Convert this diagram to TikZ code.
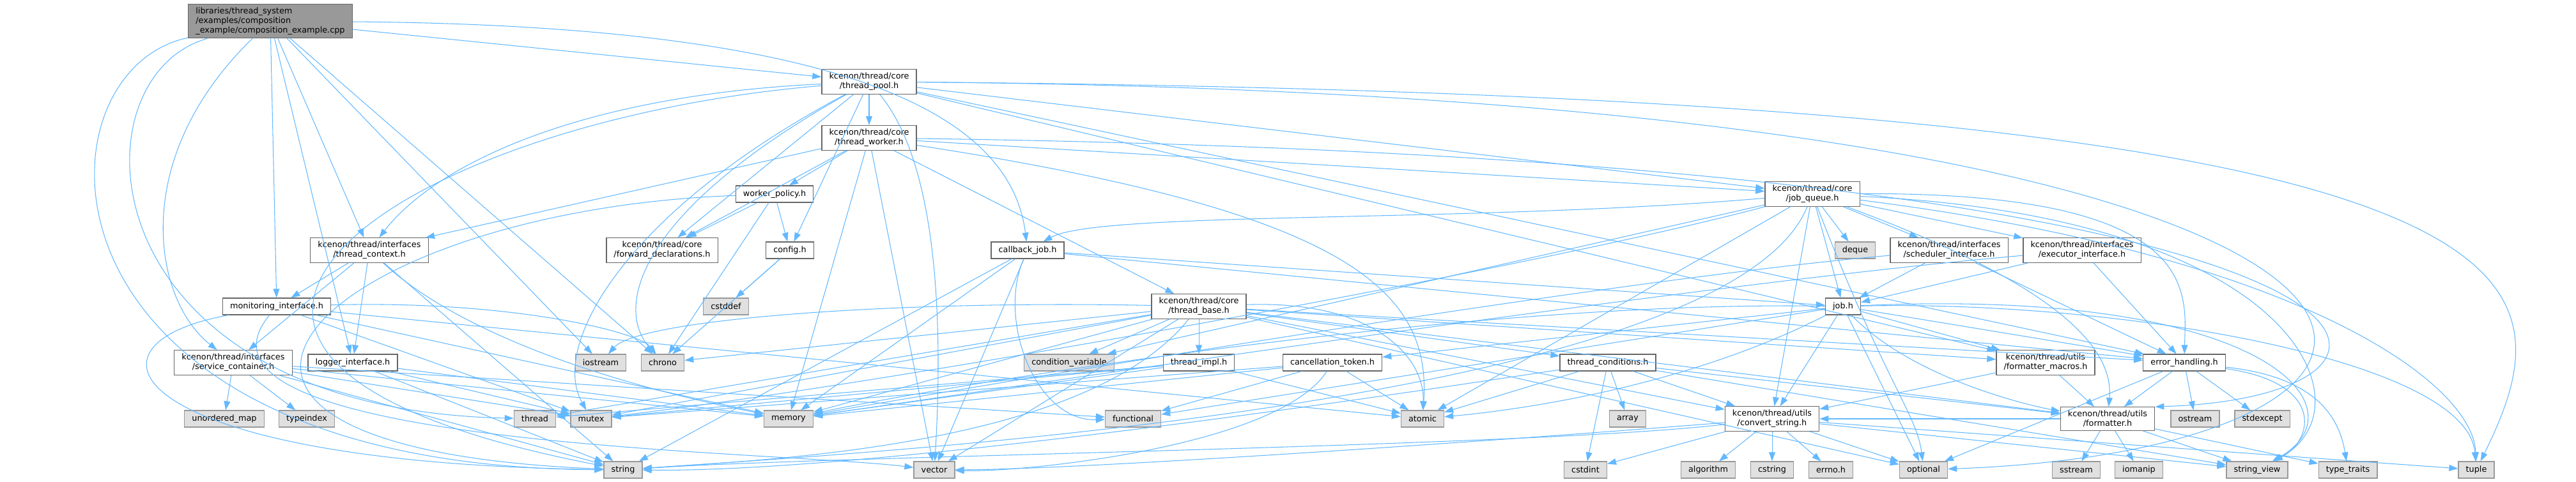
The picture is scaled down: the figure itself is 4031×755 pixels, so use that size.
\documentclass[tikz,border=0pt]{standalone}
\usepackage{fontspec}
\setmainfont{DejaVu Sans}
\usetikzlibrary{arrows.meta}
\definecolor{dgedge}{RGB}{99,184,255}
\definecolor{dgsys}{RGB}{224,224,224}
\definecolor{dgsysline}{RGB}{153,153,153}
\definecolor{dgline}{RGB}{102,102,102}
\definecolor{dgroot}{RGB}{153,153,153}

\begin{document}
\begin{tikzpicture}[x=0.2mm, y=0.2mm,
    hdr/.style={rectangle, draw=dgline, fill=white, line width=0.7pt,
                minimum height=14.7pt, inner xsep=6.6pt, inner ysep=3pt, align=center,
                font=\fontsize{7.3}{8.6}\selectfont},
    sys/.style={hdr, fill=dgsys, draw=dgsysline},
    src/.style={hdr, fill=dgroot, draw=dgline, align=left},
    dep/.style={dgedge, line width=0.6pt, -{Triangle[length=8pt,width=5.6pt]}}
  ]
    \useasboundingbox (0,0) rectangle (4031,-755);

    % Source file
    \node[src] (root)    at (423,-33)   {libraries/thread\_system\\/examples/composition\\\_example/composition\_example.cpp};

    % Core headers
    \node[hdr] (pool)    at (1360,-128) {kcenon/thread/core\\/thread\_pool.h};
    \node[hdr] (worker)  at (1360,-216) {kcenon/thread/core\\/thread\_worker.h};
    \node[hdr] (wpolicy) at (1212,-304) {worker\_policy.h};
    \node[hdr] (jobq)    at (2836,-304) {kcenon/thread/core\\/job\_queue.h};
    \node[hdr] (fwd)     at (1036,-392) {kcenon/thread/core\\/forward\_declarations.h};
    \node[hdr] (config)  at (1236,-392) {config.h};
    \node[hdr] (cbjob)   at (1608,-392) {callback\_job.h};
    \node[hdr] (tbase)   at (1876,-480) {kcenon/thread/core\\/thread\_base.h};
    \node[hdr] (job)     at (2884,-480) {job.h};
    \node[hdr] (timpl)   at (1876,-568) {thread\_impl.h};
    \node[hdr] (cancel)  at (2085,-568) {cancellation\_token.h};
    \node[hdr] (tcond)   at (2516,-568) {thread\_conditions.h};

    % Interfaces
    \node[hdr] (tctx)    at (578,-392)  {kcenon/thread/interfaces\\/thread\_context.h};
    \node[hdr] (sched)   at (3050,-392) {kcenon/thread/interfaces\\/scheduler\_interface.h};
    \node[hdr] (exec)    at (3258,-392) {kcenon/thread/interfaces\\/executor\_interface.h};
    \node[hdr] (monitor) at (433,-480)  {monitoring\_interface.h};
    \node[hdr] (svc)     at (365,-568)  {kcenon/thread/interfaces\\/service\_container.h};
    \node[hdr] (logger)  at (552,-568)  {logger\_interface.h};

    % Utils
    \node[hdr] (fmtmac)  at (3201,-568) {kcenon/thread/utils\\/formatter\_macros.h};
    \node[hdr] (errh)    at (3418,-568) {error\_handling.h};
    \node[hdr] (convstr) at (2773,-656) {kcenon/thread/utils\\/convert\_string.h};
    \node[hdr] (fmt)     at (3298,-656) {kcenon/thread/utils\\/formatter.h};

    % Standard headers
    \node[sys] (deque)     at (2903,-392) {deque};
    \node[sys] (cstddef)   at (1136,-480) {cstddef};
    \node[sys] (iostream)  at (940,-568)  {iostream};
    \node[sys] (chrono)    at (1037,-568) {chrono};
    \node[sys] (condvar)   at (1673,-568) {condition\_variable};
    \node[sys] (umap)      at (351,-656)  {unordered\_map};
    \node[sys] (typeindex) at (480,-656)  {typeindex};
    \node[sys] (thread)    at (837,-656)  {thread};
    \node[sys] (mutex)     at (925,-656)  {mutex};
    \node[sys] (memory)    at (1234,-656) {memory};
    \node[sys] (functional) at (1773,-656) {functional};
    \node[sys] (atomic)    at (2226,-656) {atomic};
    \node[sys] (array)     at (2547,-656) {array};
    \node[sys] (ostream)   at (3435,-656) {ostream};
    \node[sys] (stdexcept) at (3540,-656) {stdexcept};
    \node[sys] (string)    at (975,-736)  {string};
    \node[sys] (vector)    at (1462,-736) {vector};
    \node[sys] (cstdint)   at (2481,-736) {cstdint};
    \node[sys] (algorithm) at (2673,-736) {algorithm};
    \node[sys] (cstring)   at (2773,-736) {cstring};
    \node[sys] (errno)     at (2865,-736) {errno.h};
    \node[sys] (optional)  at (3010,-736) {optional};
    \node[sys] (sstream)   at (3249,-736) {sstream};
    \node[sys] (iomanip)   at (3347,-736) {iomanip};
    \node[sys] (strview)   at (3532,-736) {string\_view};
    \node[sys] (traits)    at (3674,-736) {type\_traits};
    \node[sys] (tuple)     at (3875,-736) {tuple};

    % composition_example.cpp
    \foreach \t in {pool,tctx,monitor,logger,iostream,chrono} \draw[dep] (root) -- (\t);
    \draw[dep] (root) .. controls (1300,-40) and (1580,-170) .. (cbjob);
    \draw[dep] (root) .. controls (45,-110) and (30,-730) .. (string);
    \draw[dep] (root) .. controls (110,-120) and (130,-640) .. (thread);
    \draw[dep] (root) .. controls (200,-250) and (240,-470) .. (svc);

    % thread_pool.h
    \foreach \t in {worker,jobq,fwd,config,errh,fmtmac} \draw[dep] (pool) -- (\t);
    \draw[dep] (pool) .. controls (900,-150) and (680,-260) .. (tctx);
    \draw[dep] (pool) .. controls (620,-190) and (70,-560) .. (string);
    \draw[dep] (pool) .. controls (1000,-330) and (960,-480) .. (chrono);
    \draw[dep] (pool) .. controls (980,-330) and (860,-540) .. (mutex);
    \draw[dep] (pool) .. controls (1470,-260) and (1475,-520) .. (vector);
    \draw[dep] (pool) .. controls (4030,-150) and (4030,-420) .. (tuple);
    \draw[dep] (pool) .. controls (3980,-150) and (3980,-700) .. (optional);

    % thread_worker.h
    \foreach \t in {wpolicy,tbase,jobq,fwd,tctx,memory,vector} \draw[dep] (worker) -- (\t);
    \draw[dep] (worker) .. controls (2100,-330) and (2240,-450) .. (atomic);
    \draw[dep] (worker) .. controls (3880,-250) and (3880,-622) .. (fmt.north east);

    % worker_policy.h, config.h
    \foreach \t in {fwd,config,chrono} \draw[dep] (wpolicy) -- (\t);
    \draw[dep] (wpolicy) .. controls (500,-330) and (120,-700) .. (string);
    \foreach \t in {cstddef,chrono} \draw[dep] (config) -- (\t);

    % interfaces
    \foreach \t in {monitor,svc,logger,string} \draw[dep] (tctx) -- (\t);
    \draw[dep] (tctx) .. controls (760,-560) and (1100,-630) .. (memory);
    \foreach \t in {memory,mutex,atomic} \draw[dep] (monitor) -- (\t);
    \draw[dep] (monitor) .. controls (800,-470) and (1000,-520) .. (chrono);
    \draw[dep] (monitor) .. controls (100,-540) and (200,-725) .. (string);
    \draw[dep] (monitor) .. controls (250,-700) and (1200,-705) .. (vector);
    \foreach \t in {umap,typeindex,memory,mutex,functional,string} \draw[dep] (svc) -- (\t);
    \foreach \t in {string,memory,mutex} \draw[dep] (logger) -- (\t);
    \foreach \t in {job,errh} \draw[dep] (sched) -- (\t);
    \draw[dep] (sched) .. controls (2500,-440) and (1500,-610) .. (memory);
    \foreach \t in {job,errh} \draw[dep] (exec) -- (\t);
    \draw[dep] (exec) .. controls (2600,-450) and (1500,-620) .. (memory);

    % callback_job.h
    \foreach \t in {job,vector,memory,string,errh} \draw[dep] (cbjob) -- (\t);
    \draw[dep] (cbjob) .. controls (1560,-500) and (1620,-660) .. (functional);

    % thread_base.h
    \foreach \t in {timpl,condvar,tcond,thread,mutex,memory,chrono,fmtmac,errh,fmt,convstr,optional,vector}
      \draw[dep] (tbase) -- (\t);
    \draw[dep] (tbase) .. controls (1400,-470) and (1000,-500) .. (iostream);
    \draw[dep] (tbase) .. controls (2150,-470) and (2230,-560) .. (atomic);
    \draw[dep] (tbase) .. controls (1700,-700) and (1200,-720) .. (string);
    \foreach \t in {thread,mutex,memory,atomic} \draw[dep] (timpl) -- (\t);
    \foreach \t in {atomic,functional,memory,mutex} \draw[dep] (cancel) -- (\t);
    \draw[dep] (cancel) .. controls (2000,-700) and (1600,-740) .. (vector);
    \foreach \t in {array,cstdint,atomic,convstr,fmt,strview} \draw[dep] (tcond) -- (\t);
    \draw[dep] (tcond) .. controls (2300,-600) and (1400,-740) .. (string);

    % job_queue.h
    \foreach \t in {job,deque,sched,exec,condvar,atomic,convstr} \draw[dep] (jobq) -- (\t);
    \draw[dep] (jobq) .. controls (2300,-350) and (1720,-330) .. (cbjob);
    \draw[dep] (jobq) .. controls (3450,-300) and (3420,-460) .. (errh);
    \draw[dep] (jobq) .. controls (3150,-420) and (3310,-520) .. (fmt);
    \draw[dep] (jobq) .. controls (3600,-340) and (3710,-640) .. (strview);
    \draw[dep] (jobq) .. controls (3600,-400) and (3870,-600) .. (tuple);
    \draw[dep] (jobq) .. controls (2950,-600) and (3000,-650) .. (optional);
    \draw[dep] (jobq) .. controls (2400,-420) and (1400,-600) .. (mutex);
    \draw[dep] (jobq) .. controls (2700,-640) and (1300,-712) .. (string);

    % job.h
    \foreach \t in {cancel,errh,fmtmac,convstr,optional,functional} \draw[dep] (job) -- (\t);
    \draw[dep] (job) .. controls (3000,-600) and (3200,-640) .. (fmt);
    \draw[dep] (job) .. controls (2650,-600) and (2400,-640) .. (atomic);
    \draw[dep] (job) .. controls (3300,-470) and (3860,-560) .. (tuple);
    \draw[dep] (job) .. controls (3550,-450) and (3700,-640) .. (strview);
    \draw[dep] (job) .. controls (2300,-470) and (1500,-600) .. (memory);

    % utils
    \foreach \t in {ostream,stdexcept,fmt,optional} \draw[dep] (errh) -- (\t);
    \draw[dep] (errh) .. controls (3640,-600) and (3620,-690) .. (strview);
    \draw[dep] (errh) .. controls (3620,-590) and (3660,-650) .. (traits);
    \foreach \t in {fmt,convstr} \draw[dep] (fmtmac) -- (\t);
    \foreach \t in {sstream,iomanip,strview,traits,convstr} \draw[dep] (fmt) -- (\t);
    \foreach \t in {algorithm,cstring,errno,optional,cstdint,strview,tuple} \draw[dep] (convstr) -- (\t);
    \draw[dep] (convstr) .. controls (2400,-700) and (1300,-714) .. (string);
    \draw[dep] (convstr) .. controls (2350,-690) and (1700,-735) .. (vector);
  \end{tikzpicture}
\end{document}
